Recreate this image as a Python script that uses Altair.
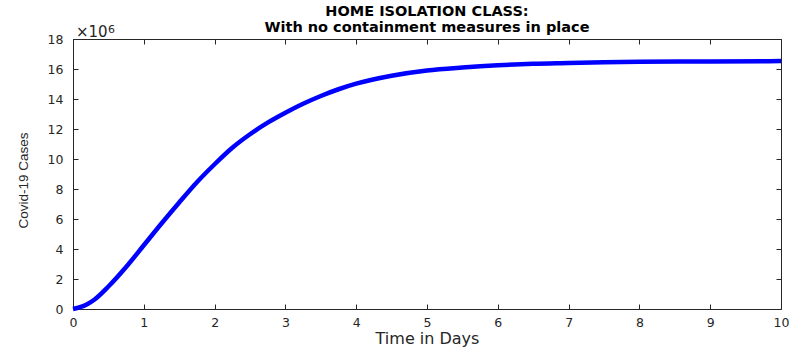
import altair as alt
import pandas as pd

# Cumulative Covid-19 cases (millions) over time, home isolation class
days = [0, 0.1, 0.2, 0.3, 0.5, 0.75, 1.0, 1.25, 1.5, 1.75, 2.0, 2.25, 2.5, 2.75,
        3.0, 3.25, 3.5, 3.75, 4.0, 4.5, 5.0, 5.5, 6.0, 6.5, 7.0, 7.5, 8.0, 9.0, 10.0]
cases_millions = [0, 0.12, 0.32, 0.62, 1.5, 2.8, 4.25, 5.7, 7.1, 8.45, 9.65, 10.75,
                  11.65, 12.42, 13.08, 13.68, 14.2, 14.65, 15.02, 15.55, 15.9, 16.1,
                  16.25, 16.35, 16.4, 16.45, 16.48, 16.5, 16.53]

x_ticks = list(range(0, 11))
y_ticks = list(range(0, 19, 2))

title_line1 = "HOME ISOLATION CLASS:"
title_line2 = "With no containment measures in place"

df = pd.DataFrame({"day": days, "cases": cases_millions})

W, H = 708, 270
ink = "#262626"
font = "DejaVu Sans"

x_scale = alt.Scale(domain=[0, 10], nice=False)
y_scale = alt.Scale(domain=[0, 18], nice=False)

line = alt.Chart(df).mark_line(
    color="#0000FF", strokeWidth=4.5, interpolate="monotone"
).encode(
    x=alt.X("day:Q", scale=x_scale, axis=alt.Axis(
        orient="bottom", values=x_ticks, offset=-5, tickSize=5, domain=False,
        grid=False, labelPadding=7, labelFontSize=12.5, labelFont=font,
        labelColor=ink, tickColor=ink, labelFlush=False,
        title="Time in Days", titleFont=font, titleFontSize=16,
        titleFontWeight="normal", titleColor=ink,
        titleBaseline="alphabetic", titleY=39)),
    y=alt.Y("cases:Q", scale=y_scale, axis=alt.Axis(
        orient="left", values=y_ticks, offset=-5, tickSize=5, domain=False,
        grid=False, labelPadding=10, labelFontSize=12.5, labelFont=font,
        labelColor=ink, tickColor=ink, labelFlush=False,
        title="Covid-19 Cases", titleFont="Liberation Sans", titleFontSize=13.5,
        titleFontWeight="normal", titleColor=ink, titleAngle=270,
        titleBaseline="middle", titleAlign="center", titleX=-55, titleY=141)),
)

# Inward ticks on the top and right edges of the box
top_ticks = alt.Chart(pd.DataFrame({"day": x_ticks})).mark_point(opacity=0).encode(
    x=alt.X("day:Q", scale=x_scale, axis=alt.Axis(
        orient="top", values=x_ticks, offset=-5, tickSize=5, domain=False,
        labels=False, grid=False, title=None, tickColor=ink)),
)
right_ticks = alt.Chart(pd.DataFrame({"cases": y_ticks})).mark_point(opacity=0).encode(
    y=alt.Y("cases:Q", scale=y_scale, axis=alt.Axis(
        orient="right", values=y_ticks, offset=-5, tickSize=5, domain=False,
        labels=False, grid=False, title=None, tickColor=ink)),
)


def label(text, x, y, size, weight="normal", align="left", color=ink):
    return alt.Chart(pd.DataFrame({"t": [text]})).mark_text(
        align=align, baseline="alphabetic", font=font, fontSize=size,
        fontWeight=weight, color=color
    ).encode(x=alt.value(x), y=alt.value(y), text="t:N")


# Axis multiplier "×10^6" above the y axis
mult_base = label("×10", 3, -2, 15)
mult_exp = label("6", 35, -6, 11)

# Two-line bold title centred over the plot
title1 = label(title_line1, W / 2, -23, 14.5, weight="bold", align="center", color="black")
title2 = label(title_line2, W / 2, -7, 14.5, weight="bold", align="center", color="black")

chart = alt.layer(
    line, top_ticks, right_ticks, mult_base, mult_exp, title1, title2
).resolve_axis(
    x="independent", y="independent"
).properties(
    width=W, height=H,
    autosize=alt.AutoSizeParams(type="none"),
    padding={"left": 73, "top": 39, "right": 9, "bottom": 39},
    background="white",
).configure_view(stroke=ink, strokeWidth=1)

chart.save("out.html", embed_options={"renderer": "svg", "actions": False})
